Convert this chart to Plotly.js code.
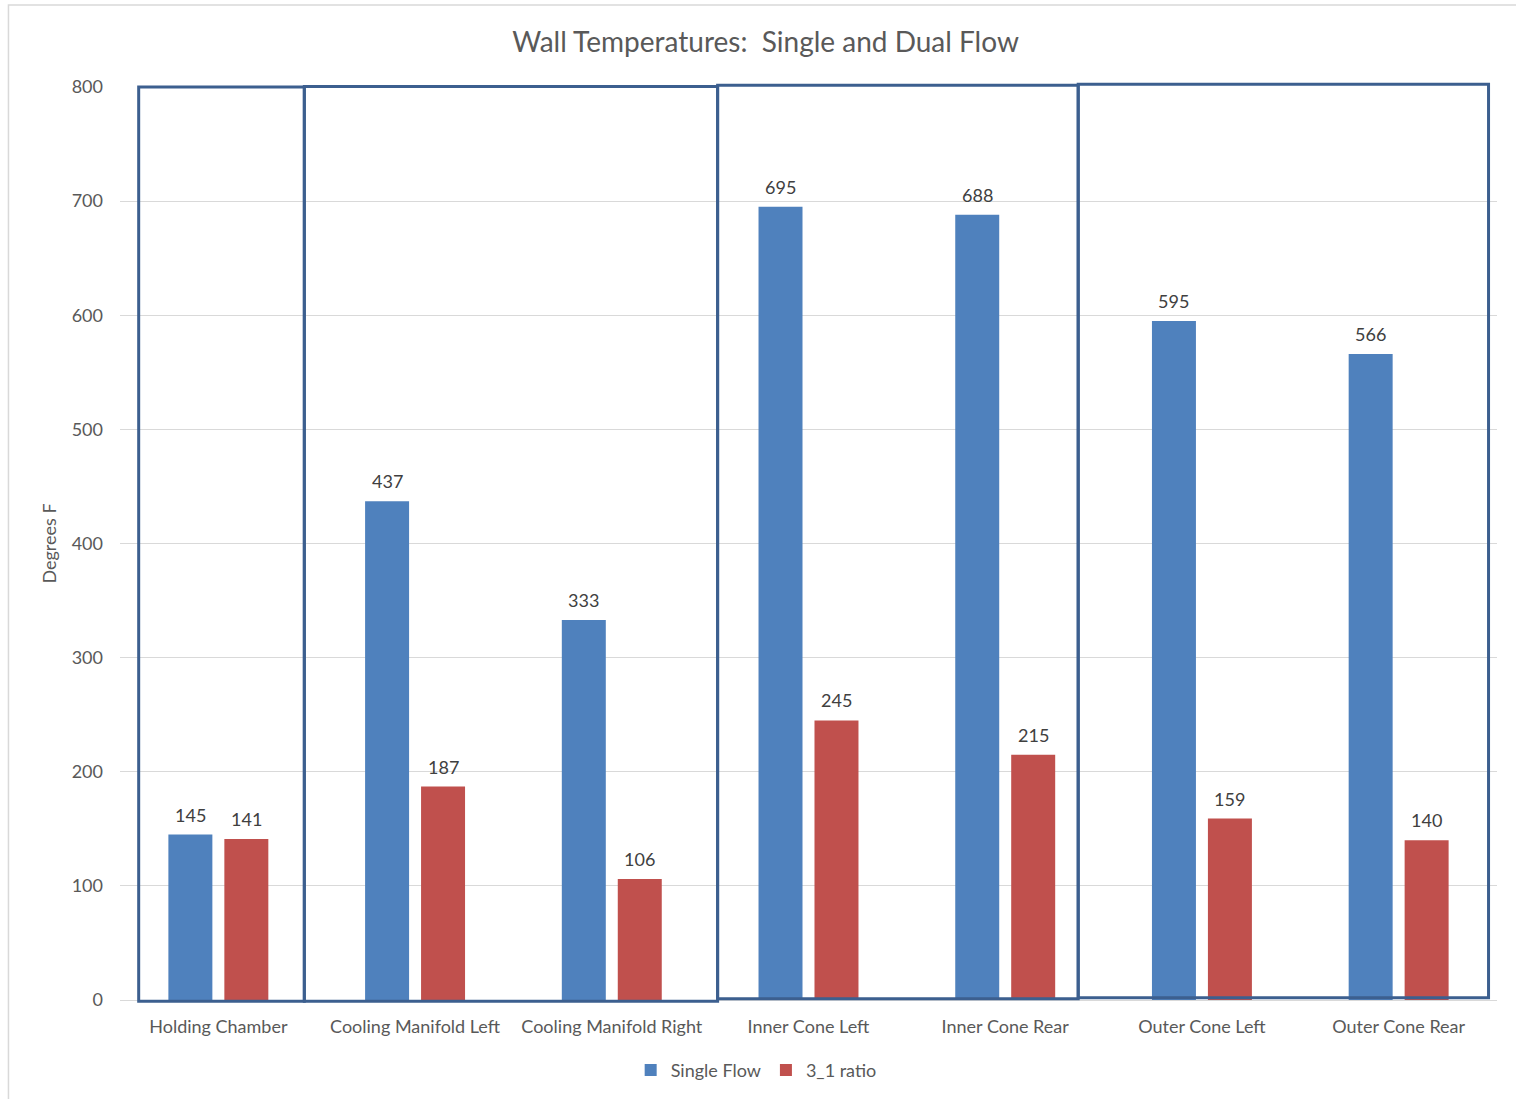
<!DOCTYPE html>
<html>
<head>
<meta charset="utf-8">
<script src="https://cdn.plot.ly/plotly-3.0.1.min.js"></script>
<style>html,body{margin:0;padding:0;background:#fff;}#chart{width:1516px;height:1099px;}</style>
</head>
<body>
<div id="chart"></div>
<script>
const categories = ["Holding Chamber", "Cooling Manifold Left", "Cooling Manifold Right", "Inner Cone Left", "Inner Cone Rear", "Outer Cone Left", "Outer Cone Rear"];
const singleFlow = [145, 437, 333, 695, 688, 595, 566];
const ratio31 = [141, 187, 106, 245, 215, 159, 140];
const seriesNames = ["Single Flow", "3_1 ratio"];
const yTicks = [0, 100, 200, 300, 400, 500, 600, 700, 800];
// group boxes drawn around categories: x in category index, y in data units
const boxStarts = [-0.405, 0.437, 2.538, 4.371];
const boxEnds = [0.437, 2.538, 4.371, 6.457];
const boxTops = [800, 800.5, 801.5, 802.5];
const boxBottoms = [-1, -1, 1, 2];

const FONT = "Lato, 'Open Sans', 'Liberation Sans', sans-serif";
const blue = "#4F81BD", red = "#C0504D", boxColor = "#3C5F8F";
const Y_MAX = 800, NCAT = categories.length;

const traces = [
  {type: "bar", name: seriesNames[0], x: categories, y: singleFlow, marker: {color: blue}, hoverinfo: "y"},
  {type: "bar", name: seriesNames[1], x: categories, y: ratio31, marker: {color: red}, hoverinfo: "y"}
];

const annotations = [];
categories.forEach((c, i) => {
  annotations.push({x: c, y: singleFlow[i], text: String(singleFlow[i]), showarrow: false, xshift: -28, yshift: 20, yanchor: "middle", font: {family: FONT, size: 18, color: "#404040"}});
  annotations.push({x: c, y: ratio31[i], text: String(ratio31[i]), showarrow: false, xshift: 28, yshift: 20, yanchor: "middle", font: {family: FONT, size: 18, color: "#404040"}});
});

const toPx = v => (v + 0.5) / NCAT;
const toPy = v => v / Y_MAX;
const shapes = boxStarts.map((x0, i) => ({
  type: "rect", xref: "paper", yref: "paper", x0: toPx(x0), x1: toPx(boxEnds[i]), y0: toPy(boxBottoms[i]), y1: toPy(boxTops[i]),
  line: {color: boxColor, width: 3}, fillcolor: "rgba(0,0,0,0)", layer: "above"
}));
// outer chart border
shapes.push({type: "rect", xref: "paper", yref: "paper", x0: -0.081, x1: 1.03, y0: -0.12, y1: 1.0898, line: {color: "#D9D9D9", width: 1.5}, layer: "below"});

const layout = {
  width: 1516, height: 1099,
  margin: {l: 120, r: 19, t: 87, b: 99, autoexpand: false},
  paper_bgcolor: "#fff", plot_bgcolor: "#fff",
  font: {family: FONT, color: "#595959", size: 18},
  title: {text: "Wall Temperatures:  Single and Dual Flow", x: 0.505, xanchor: "center", y: 0.962, yanchor: "middle", font: {family: FONT, size: 28, color: "#595959"}},
  barmode: "group", bargap: 0.431, bargroupgap: 0.214,
  xaxis: {type: "category", automargin: false, showgrid: false, showline: true, linecolor: "#D9D9D9", ticks: "", tickfont: {family: FONT, size: 18, color: "#595959"}, ticklabelstandoff: 10, range: [-0.5, 6.5], fixedrange: true},
  yaxis: {range: [0, Y_MAX], automargin: false, tickvals: yTicks, showgrid: true, gridcolor: "#D9D9D9", gridwidth: 1, zeroline: false, showline: false, ticks: "", tickfont: {family: FONT, size: 18, color: "#595959"}, ticklabelstandoff: 16,
    title: {text: "Degrees F", font: {family: FONT, size: 18, color: "#595959"}, standoff: 10}},
  legend: {orientation: "h", x: 0.462, xanchor: "center", y: -0.077, yanchor: "middle", font: {family: FONT, size: 18, color: "#595959"}, itemwidth: 30, traceorder: "normal"},
  annotations: annotations,
  shapes: shapes,
  showlegend: true
};

Plotly.newPlot("chart", traces, layout, {displayModeBar: false, staticPlot: true});
</script>
</body>
</html>
